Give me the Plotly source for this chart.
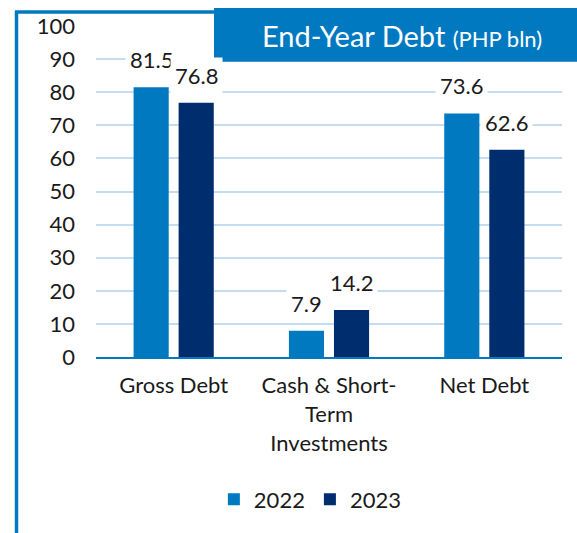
import plotly.graph_objects as go

categories = ["Gross Debt", "Cash & Short-<br>Term<br>Investments", "Net Debt"]
series_names = ["2022", "2023"]
values_2022 = [81.5, 7.9, 73.6]
values_2023 = [76.8, 14.2, 62.6]
y_ticks = [0, 10, 20, 30, 40, 50, 60, 70, 80, 90, 100]

C2022 = "#0079C1"
C2023 = "#002D6E"
FONT = "Lato"
TXT = "#1a1a1a"
W, H = 577, 533
L, R, T, B = 96, 15, 26, 174

fig = go.Figure()
for name, vals, col in [(series_names[0], values_2022, C2022), (series_names[1], values_2023, C2023)]:
    fig.add_trace(go.Bar(name=name, x=categories, y=vals, marker=dict(color=col, line=dict(width=0))))

# data labels with white background
for vals, shift in [(values_2022, -22.5), (values_2023, 22.5)]:
    for c, v in zip(categories, vals):
        fig.add_annotation(x=c, y=v, xref="x", yref="y", text=f"{v:.1f}", showarrow=False,
                           xshift=shift, yanchor="bottom", yshift=9,
                           bgcolor="white", borderpad=4,
                           font=dict(family=FONT, size=22, color=TXT))

pw = W - L - R
ph = H - T - B
def px(x):
    return (x - L) / pw
def py(y):
    return (H - B - y) / ph

# frame lines
fig.add_shape(type="line", xref="paper", yref="paper", x0=px(16.5), x1=px(16.5), y0=py(11), y1=py(540),
              line=dict(color=C2022, width=3.5))
fig.add_shape(type="line", xref="paper", yref="paper", x0=px(15), x1=px(214), y0=py(12), y1=py(12),
              line=dict(color=C2022, width=3.5))
# title box
fig.add_shape(type="rect", xref="paper", yref="paper", x0=px(214), x1=px(580), y0=py(62), y1=py(8),
              fillcolor=C2022, line=dict(width=0), layer="above")
fig.add_annotation(xref="paper", yref="paper", x=px(402), y=py(36), showarrow=False,
                   text="End-Year Debt <span style='font-size:22px'>(PHP bln)</span>",
                   font=dict(family=FONT, size=29, color="white"), xanchor="center", yanchor="middle")

fig.update_layout(
    width=W, height=H,
    margin=dict(l=L, r=R, t=T, b=B),
    paper_bgcolor="white", plot_bgcolor="white",
    barmode="group", bargap=0.42, bargroupgap=0.22,
    font=dict(family=FONT, size=22, color=TXT),
    showlegend=True,
    legend=dict(orientation="h", x=0.46, xanchor="center", y=-0.43, yanchor="middle",
                font=dict(family=FONT, size=22, color=TXT)),
    xaxis=dict(showgrid=False, showline=True, linecolor=C2022, linewidth=2,
               tickfont=dict(family=FONT, size=22, color=TXT), ticklabelstandoff=8),
    yaxis=dict(range=[0, 100], tickvals=y_ticks, showgrid=True, gridcolor="#C6DDF0", gridwidth=2,
               zeroline=False, showline=False,
               tickfont=dict(family=FONT, size=22, color=TXT), ticklabelstandoff=20),
)

fig.write_html("out.html", config={"displayModeBar": False},
               post_script="document.body.style.margin='0';document.body.style.padding='0';")
